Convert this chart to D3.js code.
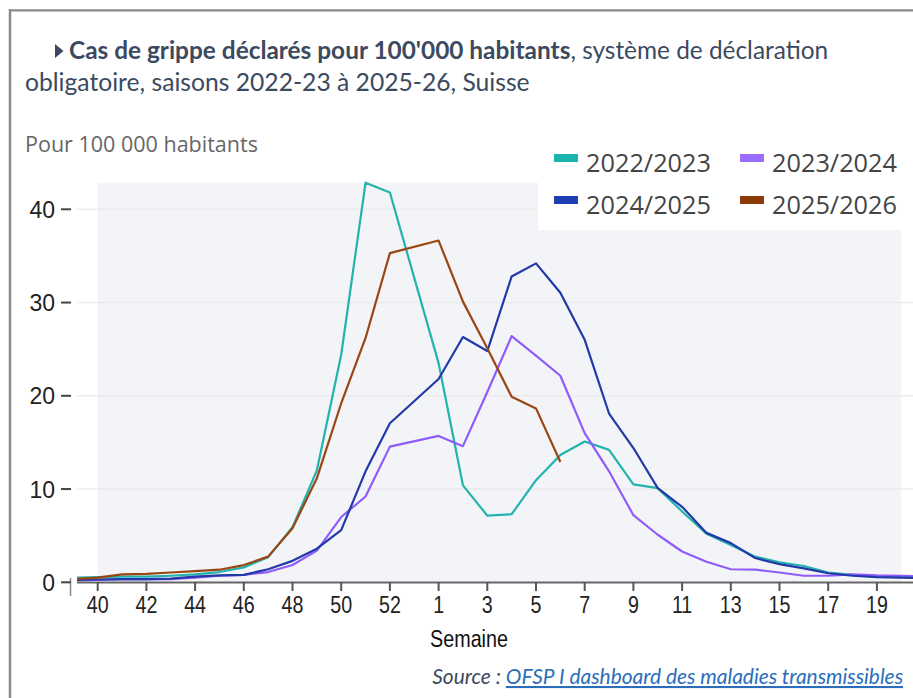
<!DOCTYPE html>
<html><head><meta charset="utf-8">
<script src="https://cdn.jsdelivr.net/npm/d3@7"></script>
<style>body{margin:0;background:#fff}svg{display:block}</style>
</head><body>
<svg id="c" width="913" height="698"></svg>
<script>
// ---- data ----
const weeks = [39,40,41,42,43,44,45,46,47,48,49,50,51,52,53,1,2,3,4,5,6,7,8,9,10,11,12,13,14,15,16,17,18,19,20,21];
const tickWeeks = [40,42,44,46,48,50,52,1,3,5,7,9,11,13,15,17,19];
const yTicks = [0,10,20,30,40];
const seasons = ["2022/2023","2023/2024","2024/2025","2025/2026"];
const s2223 = [0.5,0.55,0.6,0.6,0.7,0.85,1.1,1.6,2.7,5.9,12.0,24.4,42.85,41.8,null,23.5,10.4,7.15,7.3,10.95,13.65,15.1,14.2,10.5,10.1,7.6,5.2,4.0,2.75,2.15,1.75,1.05,0.8,0.6,0.55,0.5];
const s2324 = [0.2,0.25,0.3,0.3,0.35,0.5,0.7,0.8,1.1,1.85,3.4,7.0,9.2,14.55,null,15.7,14.6,20.4,26.4,24.3,22.15,16.0,11.9,7.2,5.1,3.3,2.2,1.4,1.35,1.05,0.7,0.7,0.86,0.75,0.7,0.65];
const s2425 = [0.25,0.3,0.35,0.35,0.4,0.6,0.75,0.8,1.4,2.3,3.6,5.6,11.9,17.05,null,21.8,26.3,24.8,32.8,34.2,31.05,26.0,18.1,14.4,10.1,8.1,5.3,4.2,2.6,1.95,1.5,0.97,0.7,0.55,0.5,0.45];
const s2526 = [0.35,0.5,0.85,0.9,1.05,1.2,1.35,1.85,2.75,5.8,11.15,19.2,26.2,35.3,null,36.65,30.1,25.1,19.9,18.65,12.9,null,null,null,null,null,null,null,null,null,null,null,null,null,null,null];
const seriesValues = [s2223, s2324, s2425, s2526];
const lineColors = ["#22b3ae","#8f5cfa","#2239a8","#9a4613"];
const swatchColors = ["#1ab3b0","#9a6cff","#1d3fb0","#8c3a0c"];

// ---- layout ----
const svg = d3.select("#c");
const plotL = 77, plotR = 913;
const x = d3.scaleLinear().domain([0, 34]).range([73.35, 901.25]);
const y = d3.scaleLinear().domain([0, 40]).range([582.3, 209.3]);
const xi = w => weeks.indexOf(w);

function fit(t, target){
  const w = t.node().getComputedTextLength();
  const fs = parseFloat(t.attr("font-size"));
  t.attr("font-size", (fs*target/w).toFixed(2));
  return fs*target/w;
}

// frame
svg.append("line").attr("x1",10).attr("x2",10).attr("y1",9).attr("y2",698).attr("stroke","#8a8a8a").attr("stroke-width",2.5);
svg.append("line").attr("x1",9).attr("x2",913).attr("y1",10.3).attr("y2",10.3).attr("stroke","#8a8a8a").attr("stroke-width",2.2);

// title
const titleColor = "#3b4a60";
const t2 = svg.append("text").attr("x",25).attr("y",91).attr("font-family","Lato, 'Open Sans', sans-serif")
  .attr("font-size",20).attr("fill",titleColor).text("obligatoire, saisons 2022-23 à 2025-26, Suisse");
const tfs = fit(t2, 505);
const t1 = svg.append("text").attr("x",69).attr("y",59).attr("font-family","Lato, 'Open Sans', sans-serif")
  .attr("font-size",tfs).attr("fill",titleColor);
t1.append("tspan").attr("font-weight","bold").text("Cas de grippe déclarés pour 100'000 habitants");
t1.append("tspan").text(", système de déclaration");
fit(t1, 759);
svg.append("path").attr("d","M55,44 L63.5,51 L55,58 Z").attr("fill",titleColor);

// y label
const pl = svg.append("text").attr("x",25).attr("y",152).attr("font-family","'Open Sans', sans-serif")
  .attr("font-size",21).attr("fill","#666").text("Pour 100 000 habitants");
fit(pl, 233);

// plot background band (season weeks 40..20), top at max value
const allVals = seriesValues.flat().filter(v => v != null);
svg.append("rect").attr("x", x(xi(40))).attr("width", x(xi(20)) - x(xi(40)))
  .attr("y", y(d3.max(allVals))).attr("height", y(0) - y(d3.max(allVals))).attr("fill","#f3f4f7");

// gridlines
svg.append("g").selectAll("line").data(yTicks.filter(d => d > 0)).join("line")
  .attr("x1",plotL).attr("x2",plotR).attr("y1",d=>y(d)).attr("y2",d=>y(d))
  .attr("stroke","#ebebeb").attr("stroke-width",1.5);

// legend background
svg.append("rect").attr("x",538).attr("y",130).attr("width",380).attr("height",100).attr("fill","#fff");

// lines
svg.append("clipPath").attr("id","clip").append("rect").attr("x",plotL).attr("y",100).attr("width",plotR-plotL).attr("height",500);
const line = d3.line().x(d=>x(d[0])).y(d=>y(d[1]));
const lg = svg.append("g").attr("clip-path","url(#clip)");
seriesValues.forEach((s,k) => {
  const pts = s.map((v,i)=>[i,v]).filter(d => d[1] != null);
  lg.append("path").attr("d", line(pts)).attr("fill","none").attr("stroke",lineColors[k])
    .attr("stroke-width",2.2).attr("stroke-linejoin","round");
});

// x axis
svg.append("line").attr("x1",plotL).attr("x2",plotR).attr("y1",582.5).attr("y2",582.5).attr("stroke","#666").attr("stroke-width",2);
const xt = svg.append("g").selectAll("g").data(tickWeeks).join("g").attr("transform", d=>`translate(${x(xi(d))},0)`);
xt.append("line").attr("y1",582).attr("y2",591).attr("stroke","#555").attr("stroke-width",2);
xt.append("text").attr("transform","translate(0,613) scale(0.82,1)").attr("text-anchor","middle")
  .attr("font-family","'Liberation Sans', Arial, sans-serif")
  .attr("font-size",24).attr("fill","#222").text(d=>d);
const sem = svg.append("text").attr("text-anchor","middle")
  .attr("font-family","'Liberation Sans', Arial, sans-serif").attr("font-size",24).attr("fill","#111").text("Semaine");
const semW = sem.node().getComputedTextLength();
sem.attr("transform", `translate(469,647) scale(${78/semW},1)`);

// y axis
svg.append("line").attr("x1",70.5).attr("x2",70.5).attr("y1",578).attr("y2",596).attr("stroke","#888").attr("stroke-width",1.5);
const yt = svg.append("g").selectAll("g").data(yTicks).join("g").attr("transform", d=>`translate(0,${y(d)})`);
yt.append("line").attr("x1",61).attr("x2",71).attr("stroke","#444").attr("stroke-width",2);
yt.append("text").attr("x",55).attr("y",8.5).attr("text-anchor","end").attr("font-family","'Liberation Sans', Arial, sans-serif")
  .attr("font-size",23).attr("fill","#222").text(d=>d);

// legend
const legPos = [[554,154],[740,154],[554,196],[740,196]];
seasons.forEach((name,k) => {
  const [lx,ly] = legPos[k];
  svg.append("rect").attr("x",lx).attr("y",ly).attr("width",24).attr("height",8).attr("fill",swatchColors[k]);
  const t = svg.append("text").attr("x",lx+32).attr("y",ly+17.5).attr("font-family","'Open Sans', sans-serif")
    .attr("font-size",25).attr("fill","#444").text(name);
  fit(t, 125);
});

// source
const src = svg.append("text").attr("x",903).attr("y",684).attr("text-anchor","end")
  .attr("font-family","Lato, 'Open Sans', sans-serif").attr("font-style","italic").attr("font-size",18);
src.append("tspan").attr("fill","#3b4a60").text("Source : ");
src.append("tspan").attr("fill","#2a6ebb").attr("text-decoration","underline").text("OFSP I dashboard des maladies transmissibles");
fit(src, 471);
</script>
</body></html>
